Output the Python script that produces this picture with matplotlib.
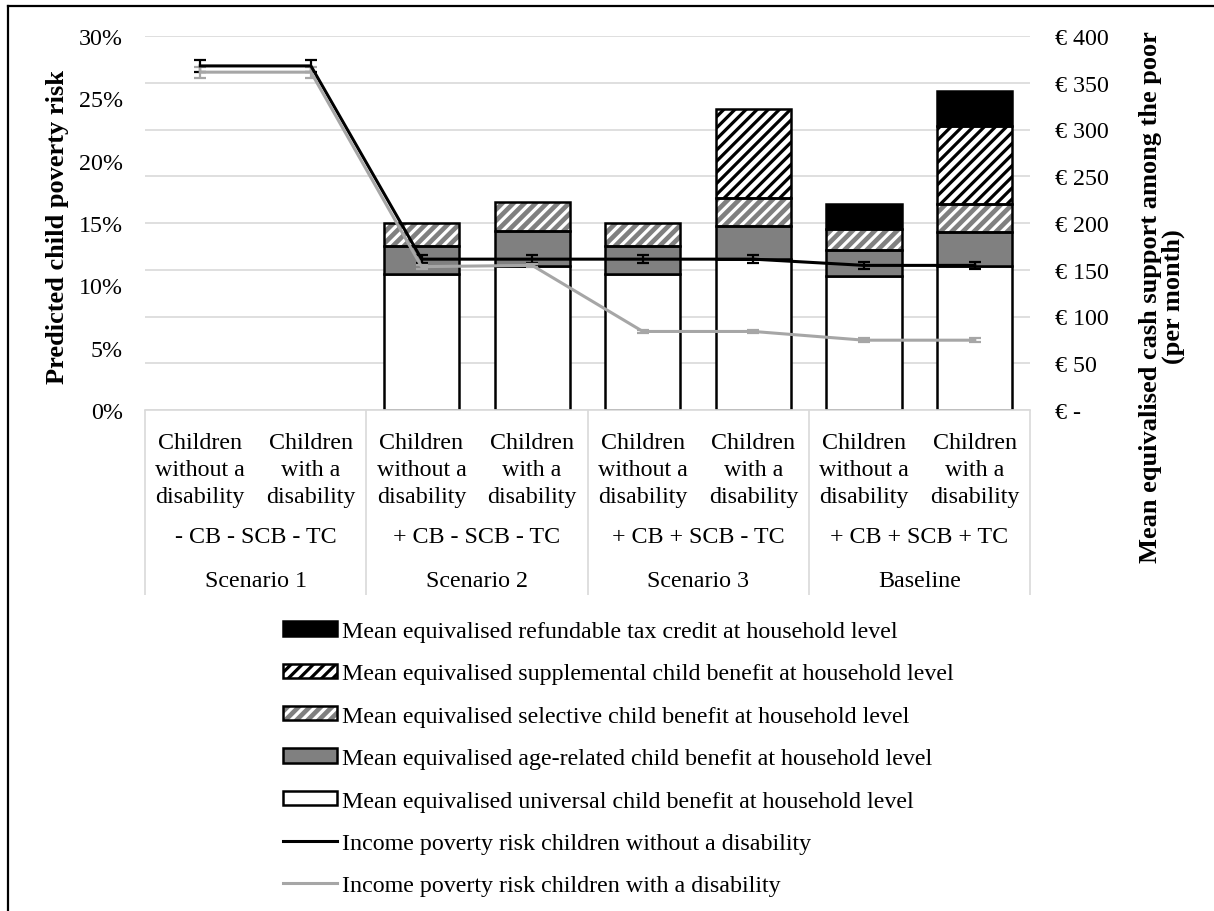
import numpy as np
import matplotlib.pyplot as plt
from matplotlib.patches import Patch
from matplotlib.lines import Line2D
from matplotlib.ticker import FuncFormatter, PercentFormatter

plt.rcParams["font.family"] = ["Liberation Serif", "DejaVu Serif"]
plt.rcParams["hatch.linewidth"] = 2.3

# x categories (3 levels)
groups = ["Children\nwithout a\ndisability", "Children\nwith a\ndisability"] * 4
policies = ["- CB - SCB - TC", "+ CB - SCB - TC", "+ CB + SCB - TC", "+ CB + SCB + TC"]
scenarios = ["Scenario 1", "Scenario 2", "Scenario 3", "Baseline"]

# mean equivalised benefits (EUR per month), stacked bottom -> top
universal = [0, 0, 145, 154, 145, 161, 143, 154]
age_related = [0, 0, 30, 37, 30, 36, 28, 36]
selective = [0, 0, 25, 31, 25, 30, 23, 30]
supplemental = [0, 0, 0, 0, 0, 95, 0, 84]
tax_credit = [0, 0, 0, 0, 0, 0, 26, 37]

# predicted poverty risk (%) with error margins
risk_without = [27.6, 27.6, 12.1, 12.1, 12.1, 12.1, 11.6, 11.6]
err_without = [0.5, 0.5, 0.3, 0.3, 0.3, 0.3, 0.3, 0.3]
risk_with = [27.1, 27.1, 11.5, 11.6, 6.3, 6.3, 5.6, 5.6]
err_with = [0.45, 0.45, 0.15, 0.15, 0.15, 0.15, 0.15, 0.15]

labels = [
    "Mean equivalised refundable tax credit at household level",
    "Mean equivalised supplemental child benefit at household level",
    "Mean equivalised selective child benefit at household level",
    "Mean equivalised age-related child benefit at household level",
    "Mean equivalised universal child benefit at household level",
    "Income poverty risk children without a disability",
    "Income poverty risk children with a disability",
]

GRID = "#d9d9d9"
MID = "#808080"
LGRAY = "#a6a6a6"
FS = 17.3
EDGE = 1.8
W = 0.68

fig = plt.figure(figsize=(12.14, 9.12), dpi=100)
ax = fig.add_axes([145 / 1214, 1 - 411 / 912, 885 / 1214, 374 / 912])
ax2 = ax.twinx()
ax.set_zorder(ax2.get_zorder() + 1)
ax.patch.set_visible(False)

x = np.arange(len(groups))

# (values, facecolor, hatch colour, hatch)
series = [
    (universal, "white", None, None),
    (age_related, MID, None, None),
    (selective, MID, "white", "///"),
    (supplemental, "white", "black", "///"),
    (tax_credit, "black", None, None),
]
bottom = np.zeros(len(x))
for vals, fc, hc, hatch in series:
    v = np.array(vals, dtype=float)
    m = v > 0
    if hatch:
        ax2.bar(x[m], v[m], W, bottom=bottom[m], color=fc, edgecolor=hc,
                hatch=hatch, linewidth=0, zorder=2)
        ax2.bar(x[m], v[m], W, bottom=bottom[m], facecolor="none",
                edgecolor="black", linewidth=EDGE, zorder=3)
    else:
        ax2.bar(x[m], v[m], W, bottom=bottom[m], color=fc,
                edgecolor="black", linewidth=EDGE, zorder=3)
    bottom += v

ax2.set_ylim(0, 400)
ax2.set_yticks(np.arange(0, 401, 50))
ax2.yaxis.set_major_formatter(FuncFormatter(lambda v, p: "€ -" if v == 0 else f"€ {v:.0f}"))
ax2.grid(axis="y", color=GRID, linewidth=1.2)
ax2.set_axisbelow(True)
ax2.tick_params(axis="y", length=0, pad=18, labelsize=FS)
for s in ax2.spines.values():
    s.set_visible(False)

ax.errorbar(x, risk_without, yerr=err_without, color="black", lw=2.2,
            elinewidth=1.6, capsize=4, capthick=1.6, zorder=4)
ax.errorbar(x, risk_with, yerr=err_with, color=LGRAY, lw=2.2,
            elinewidth=1.6, capsize=4, capthick=1.6, zorder=4)

ax.set_ylim(0, 30)
ax.set_yticks(np.arange(0, 31, 5))
ax.yaxis.set_major_formatter(PercentFormatter(100, decimals=0))
ax.tick_params(axis="y", length=0, pad=16, labelsize=FS)
ax.set_xlim(-0.5, len(x) - 0.5)
ax.set_xticks(x, groups, fontsize=FS, linespacing=1.38)
ax.tick_params(axis="x", length=0, pad=16)
for name, s in ax.spines.items():
    s.set_visible(name == "bottom")
ax.spines["bottom"].set_color(GRID)
ax.spines["bottom"].set_linewidth(1.2)

xt = ax.get_xaxis_transform()
for i, (pol, sc) in enumerate(zip(policies, scenarios)):
    cx = 2 * i + 0.5
    ax.text(cx, (411 - 538) / 374, pol, transform=xt, ha="center", va="center", fontsize=FS)
    ax.text(cx, (411 - 582) / 374, sc, transform=xt, ha="center", va="center", fontsize=FS)
ax.vlines(np.arange(-0.5, len(x), 2), (411 - 596) / 374, 0, transform=xt,
          colors=GRID, linewidth=1.2, clip_on=False)

ax.set_ylabel("Predicted child poverty risk", fontsize=19, fontweight="bold")
ax.yaxis.label.set_va("center")
ax.yaxis.set_label_coords((58 - 145) / 885, 0.492)
ax2.set_ylabel("Mean equivalised cash support among the poor\n(per month)",
               fontsize=19, fontweight="bold", linespacing=1.0)
ax2.yaxis.label.set(va="center", ha="center", rotation=90, multialignment="center")
ax2.yaxis.set_label_coords((1162 - 145) / 885, (411 - 297) / 374)

handles = [
    Patch(facecolor="black", edgecolor="black", linewidth=EDGE),
    (Patch(facecolor="white", edgecolor="black", hatch="///", linewidth=0),
     Patch(facecolor="none", edgecolor="black", linewidth=EDGE)),
    (Patch(facecolor=MID, edgecolor="white", hatch="///", linewidth=0),
     Patch(facecolor="none", edgecolor="black", linewidth=EDGE)),
    Patch(facecolor=MID, edgecolor="black", linewidth=EDGE),
    Patch(facecolor="white", edgecolor="black", linewidth=EDGE),
    Line2D([], [], color="black", lw=2.2),
    Line2D([], [], color=LGRAY, lw=2.2),
]
fig.legend(handles, labels, loc="upper left", bbox_to_anchor=(283 / 1214, 1 - 622 / 912),
           frameon=False, fontsize=FS, borderpad=0, borderaxespad=0,
           handlelength=2.25, handleheight=0.54, handletextpad=0.2, labelspacing=0.89)

# figure border (only left and top visible in the crop)
fig.add_artist(Line2D([8 / 1214, 8 / 1214], [0, 1 - 7 / 912], color="black", lw=1.6,
                      transform=fig.transFigure))
fig.add_artist(Line2D([8 / 1214, 1], [1 - 7 / 912, 1 - 7 / 912], color="black", lw=1.6,
                      transform=fig.transFigure))

fig.savefig("out.png", dpi=100)
